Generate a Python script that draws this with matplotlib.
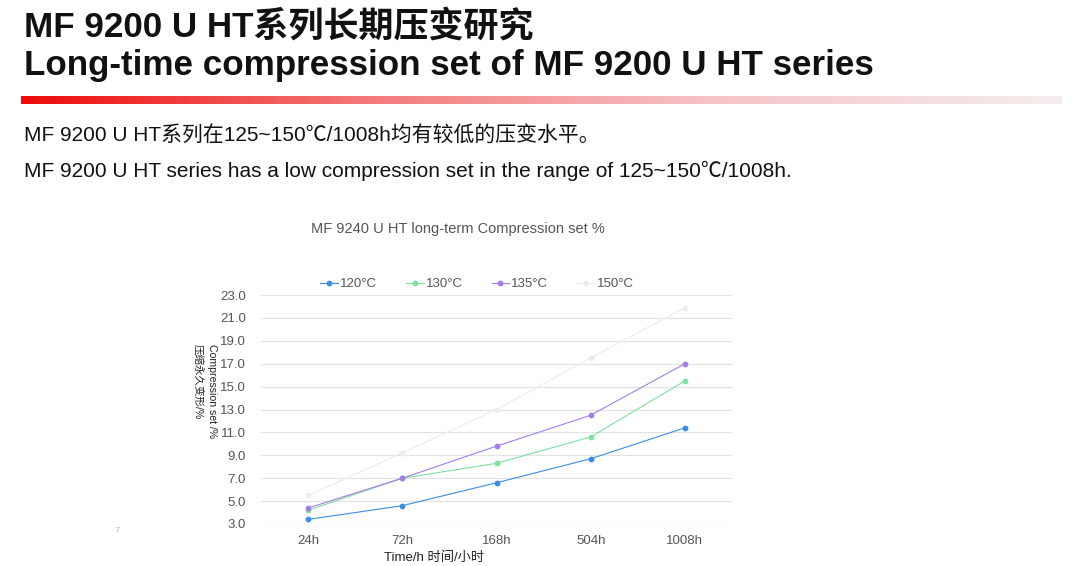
import matplotlib
matplotlib.use("Agg")
import matplotlib.pyplot as plt
import numpy as np
from matplotlib.colors import LinearSegmentedColormap

plt.rcParams['font.family'] = ['Liberation Sans', 'Noto Sans CJK SC', 'DejaVu Sans']

categories = ['24h', '72h', '168h', '504h', '1008h']
series_names = ['120°C', '130°C', '135°C', '150°C']
s120 = [3.4, 4.6, 6.6, 8.7, 11.4]
s130 = [4.2, 7.0, 8.3, 10.6, 15.5]
s135 = [4.4, 7.0, 9.8, 12.5, 17.0]
s150 = [5.5, 9.2, 13.0, 17.5, 21.9]
yticks = [3.0, 5.0, 7.0, 9.0, 11.0, 13.0, 15.0, 17.0, 19.0, 21.0, 23.0]
colors = ['#3a8ee6', '#7fe0a0', '#a47ee6', '#ececec']

W, H = 1080, 566
fig = plt.figure(figsize=(W/100, H/100), dpi=100)
fig.patch.set_facecolor('white')

def fx(px): return px / W
def fy(py): return 1 - py / H

# Header
fig.text(fx(24), fy(37), 'MF 9200 U HT系列长期压变研究', fontsize=25.2, fontweight='bold',
         color='#111111', va='baseline', ha='left')
fig.text(fx(24), fy(75), 'Long-time compression set of MF 9200 U HT series', fontsize=25.2,
         fontweight='bold', color='#111111', va='baseline', ha='left')

# gradient bar
gax = fig.add_axes([fx(21), fy(104), fx(1062) - fx(21), (104 - 96) / H])
grad = np.linspace(0, 1, 512)
cmap = LinearSegmentedColormap.from_list('rg', ['#ee0a0a', '#f47a7a', '#f6c4c8', '#f4eeee'])
gax.imshow(grad[np.newaxis, :], aspect='auto', cmap=cmap, extent=[0, 1, 0, 1])
gax.set_axis_off()

fig.text(fx(24), fy(141), 'MF 9200 U HT系列在125~150℃/1008h均有较低的压变水平。', fontsize=15,
         color='#111111', va='baseline', ha='left')
fig.text(fx(24), fy(177), 'MF 9200 U HT series has a low compression set in the range of 125~150℃/1008h.',
         fontsize=15, color='#111111', va='baseline', ha='left')

fig.text(fx(458), fy(229), 'MF 9240 U HT long-term Compression set %', fontsize=10.5,
         color='#555555', va='center', ha='center')

fig.text(fx(118), fy(530), '7', fontsize=5, color='#aaaaaa', va='center', ha='center')

# Chart axes
ax = fig.add_axes([fx(261), fy(524), fx(732) - fx(261), (524 - 295) / H])
x = np.arange(len(categories))
data = [s120, s130, s135, s150]
order = [3, 1, 0, 2]
handles = {}
for i in order:
    ln, = ax.plot(x, data[i], color=colors[i], lw=0.8, marker='o', markersize=4.2,
                  markeredgewidth=0, label=series_names[i], zorder=3 + (i == 2))
    handles[i] = ln
ax.set_xlim(-0.5, len(categories) - 0.5)
ax.set_ylim(3.0, 23.0)
ax.set_yticks(yticks)
ax.set_yticklabels([f'{v:.1f}' for v in yticks])
ax.set_xticks(x)
ax.set_xticklabels(categories)
ax.tick_params(axis='both', length=0, colors='#555555', labelsize=9.5)
ax.tick_params(axis='y', pad=11)
ax.tick_params(axis='x', pad=8)
for s in ax.spines.values():
    s.set_visible(False)
ax.grid(axis='y', color='#e3e3e3', lw=0.9)
ax.set_axisbelow(True)
ax.set_xlabel('Time/h 时间/小时', fontsize=9.5, color='#222222', labelpad=3)
ax.xaxis.set_label_coords((434 - 261) / (732 - 261), -0.12)
ax.set_ylabel('Compression set /%\n压缩永久变形/%', fontsize=7.6, color='#222222',
              rotation=-90, linespacing=1.55, va='center', ha='center', multialignment='left')
ax.yaxis.set_label_coords((204.5 - 261) / (732 - 261), (524 - 391) / (524 - 295))

leg = fig.legend([handles[i] for i in range(4)], series_names, loc='center',
                 bbox_to_anchor=(fx(477), fy(284)), ncol=4, frameon=False,
                 fontsize=9.5, handlelength=1.35, handletextpad=0.15, columnspacing=2.2,
                 labelcolor='#555555')

fig.savefig('out.png', dpi=100, facecolor='white')
